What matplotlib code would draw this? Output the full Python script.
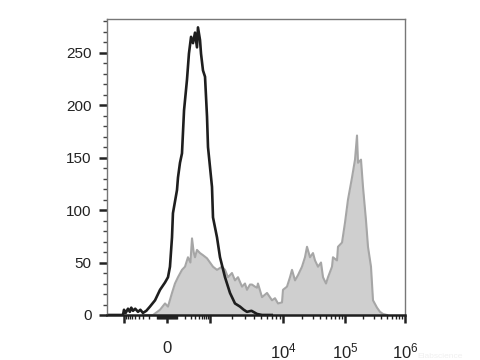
import numpy as np
import matplotlib
matplotlib.use("Agg")
import matplotlib.pyplot as plt
from matplotlib.ticker import FixedLocator, FixedFormatter, MultipleLocator

plt.rcParams['font.family'] = ['Liberation Sans', 'DejaVu Sans']
plt.rcParams['mathtext.fontset'] = 'custom'
plt.rcParams['mathtext.rm'] = 'Liberation Sans'
plt.rcParams['mathtext.it'] = 'Liberation Sans'

# ── data ──
black_x = [-1920, -1080, -1040, -1000, -900, -783, -700, -640, -575, -500,
           -419, -360, -303, -240, -183, -118, -65, -18, 9, 27,
           46, 55, 96, 107, 130, 155, 183, 228, 262, 303,
           345, 393, 446, 475, 540, 575, 650, 737, 833, 885,
           1000, 1065, 1099, 1247, 1371, 1605, 1879, 2199, 2576, 2900,
           3210, 3700, 4406, 5160, 7000]
black_y = [0, 0, 0, 5, 2, 6, 3, 7, 4, 6,
           3, 5, 2, 4, 8, 14, 24, 31, 36, 46,
           74, 97, 119, 131, 145, 154, 195, 224, 249, 265,
           259, 269, 255, 274, 262, 249, 233, 227, 189, 160,
           141, 122, 93, 74, 55, 36, 21, 11, 8, 5,
           3, 4, 1, 0, 0]

gray_x = [-300, -142, -65, -18, 9, 46, 75, 107, 155, 197,
          245, 290, 323, 360, 393, 446, 540, 650, 833, 1000,
          1099, 1247, 1460, 1605, 1763, 2000, 2199, 2418, 2745, 3016,
          3210, 3531, 3760, 4136, 4406, 4540, 5160, 6040, 7070, 7770,
          8540, 9690, 10000, 11600, 12970, 13970, 15630, 17470, 20240, 22620,
          24390, 27250, 30460, 32830, 36700, 41030, 44180, 49390, 53220, 61700,
          63970, 74300, 77100, 89500, 100000, 112200, 130900, 146800, 158500, 164800,
          184800, 199500, 223900, 241700, 271200, 292900, 341500, 383100, 429800, 500000]
gray_y = [0, 0, 5, 11, 8, 21, 30, 36, 43, 46,
          55, 50, 73, 60, 55, 62, 59, 57, 54, 50,
          46, 43, 46, 43, 36, 40, 33, 36, 27, 30,
          24, 29, 29, 27, 26, 30, 17, 21, 14, 16,
          11, 12, 24, 27, 36, 43, 33, 38, 46, 55,
          65, 55, 59, 52, 46, 50, 36, 30, 36, 46,
          55, 52, 65, 69, 88, 110, 131, 148, 171, 145,
          148, 122, 90, 65, 46, 14, 7, 3, 1, 0]

x_major = [-1000, 0, 1000, 1e4, 1e5, 1e6]
x_labels = ['', '0', '', '$10^{4}$', '$10^{5}$', '$10^{6}$']


# ─────────────────────────────────────────────
# Biexponential-like x scale (linear near 0, log above 10^3)
# ─────────────────────────────────────────────
W = 150.0
A = np.arcsinh(1000 / W)
DEC = [3, 4, 5, 6]
POS = [43, 116, 178, 238]

def fwd(x):
    x = np.asarray(x, float)
    ax_ = np.abs(x)
    lin = 43 * np.arcsinh(x / W) / A
    lg = np.log10(np.maximum(ax_, 1000))
    hi = np.interp(lg, DEC, POS) + np.where(lg > 6, (lg - 6) * 60, 0)
    lo = -(43 + (lg - 3) * 60)
    return np.where(ax_ <= 1000, lin, np.where(x > 0, hi, lo))

def inv(p):
    p = np.asarray(p, float)
    lin = W * np.sinh(np.clip(p, -43, 43) / 43 * A)
    hi = 10 ** np.interp(p, POS, DEC) * np.where(p > 238, 10 ** ((p - 238) / 60), 1)
    lo = -10 ** (3 + (np.maximum(-p, 43) - 43) / 60)
    return np.where(np.abs(p) <= 43, lin, np.where(p > 0, hi, lo))


fig = plt.figure(figsize=(4.8, 3.6), dpi=100)
ax = fig.add_axes([107 / 480, 45 / 360, 298 / 480, 296 / 360])
ax.set_xscale('function', functions=(fwd, inv))

ax.fill_between(gray_x, gray_y, 0, color='#cfcfcf', lw=0)
ax.plot(gray_x, gray_y, color='#a6a6a6', lw=1.5)
ax.plot(black_x, black_y, color='#1e1e1e', lw=1.9)

ax.set_xlim(-1920, 1e6)
ax.set_ylim(0, 282)

# x ticks
minors = ([-v for v in range(100, 1000, 100)] + [-v for v in range(10, 100, 10)]
          + list(range(10, 100, 10)) + list(range(100, 1000, 100))
          + [m * 10 ** e for e in (3, 4, 5) for m in range(2, 10)])
ax.xaxis.set_major_locator(FixedLocator(x_major))
ax.xaxis.set_major_formatter(FixedFormatter(x_labels))
ax.xaxis.set_minor_locator(FixedLocator(minors))
ax.tick_params(axis='x', which='major', length=6, width=1.8, color='#222222',
               pad=13, labelsize=12, labelcolor='#222222')
ax.tick_params(axis='x', which='minor', length=3, width=1, color='#222222')

# y ticks
ax.yaxis.set_major_locator(MultipleLocator(50))
ax.yaxis.set_minor_locator(MultipleLocator(10))
ax.tick_params(axis='y', which='major', length=6, width=1.8, color='#222222',
               pad=5, labelsize=11, labelcolor='#222222')
ax.tick_params(axis='y', which='minor', length=3, width=1, color='#444444')

for s in ('left', 'top', 'right'):
    ax.spines[s].set_color('#777777')
    ax.spines[s].set_linewidth(1)
ax.spines['bottom'].set_color('#1e1e1e')
ax.spines['bottom'].set_linewidth(1.8)

fig.text(0.87, 0.005, 'Elabscience', color='#f0f0f0', fontsize=6)

fig.savefig('out.png', dpi=100)
